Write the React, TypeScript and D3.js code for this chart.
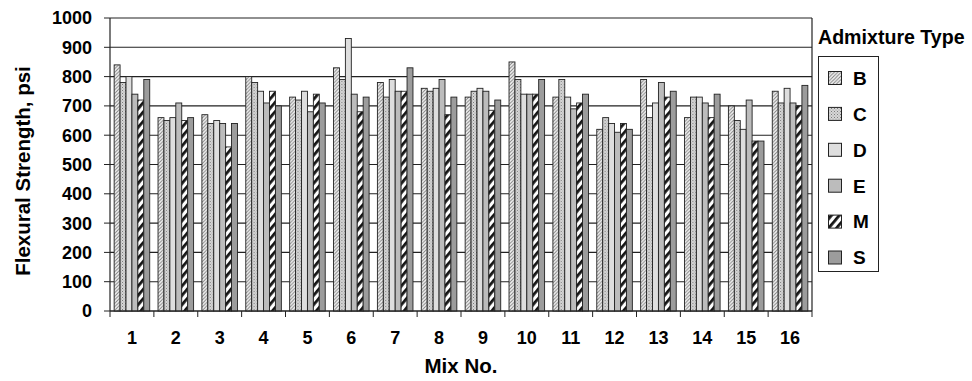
import React from 'react';
import * as d3 from 'd3';

// Mix numbers along the x axis
const mixes = ['1', '2', '3', '4', '5', '6', '7', '8', '9', '10', '11', '12', '13', '14', '15', '16'];
// Admixture types (series)
const admixtures = ['B', 'C', 'D', 'E', 'M', 'S'];

// Flexural strength (psi) per mix, one array per admixture type
const strengthB = [840, 660, 670, 800, 730, 830, 780, 760, 730, 850, 730, 620, 790, 660, 700, 750];
const strengthC = [780, 650, 640, 780, 720, 790, 730, 750, 750, 790, 790, 660, 660, 730, 650, 710];
const strengthD = [800, 660, 650, 750, 750, 930, 790, 760, 760, 740, 730, 640, 710, 730, 620, 760];
const strengthE = [740, 710, 640, 710, 680, 740, 750, 790, 750, 740, 690, 610, 780, 710, 720, 710];
const strengthM = [720, 650, 560, 750, 740, 680, 750, 670, 685, 740, 710, 640, 730, 660, 580, 700];
const strengthS = [790, 660, 640, 700, 710, 730, 830, 730, 720, 790, 740, 620, 750, 740, 580, 770];

const yTicks = [0, 100, 200, 300, 400, 500, 600, 700, 800, 900, 1000];

const seriesValues = [strengthB, strengthC, strengthD, strengthE, strengthM, strengthS];
const fills = ['url(#patB)', 'url(#patC)', '#dedede', '#bcbcbc', 'url(#patM)', '#9c9c9c'];

const W = 972;
const H = 381;
const plot = { left: 110, right: 812, top: 18, bottom: 311 };
const FONT = '"Liberation Sans", Arial, Helvetica, sans-serif';

export default function App() {
  const x0 = d3.scaleBand<string>().domain(mixes).range([plot.left, plot.right]).paddingInner(0).paddingOuter(0);
  const x1 = d3.scaleBand<string>().domain(admixtures).range([0, x0.bandwidth()]).paddingOuter(0.7).paddingInner(0);
  const y = d3.scaleLinear().domain([0, 1000]).range([plot.bottom, plot.top]);

  const legendItemY = d3.scalePoint<string>().domain(admixtures).range([78, 257.5]);

  return (
    <div style={{ position: 'absolute', left: 0, top: 0 }}>
      <svg width={W} height={H} style={{ display: 'block', background: '#fff' }} fontFamily={FONT}>
        <defs>
          <pattern id="patB" width="3.5" height="3.5" patternUnits="userSpaceOnUse">
            <rect width="3.5" height="3.5" fill="#f4f4f4" />
            <path d="M-1,1 L1,-1 M0,3.5 L3.5,0 M2.5,4.5 L4.5,2.5" stroke="#7a7a7a" strokeWidth="0.9" />
          </pattern>
          <pattern id="patC" width="3" height="3" patternUnits="userSpaceOnUse">
            <rect width="3" height="3" fill="#d6d6d6" />
            <rect x="0" y="0" width="1" height="1" fill="#7c7c7c" />
            <rect x="1.5" y="1.5" width="1" height="1" fill="#9a9a9a" />
          </pattern>
          <pattern id="patM" width="6" height="6" patternUnits="userSpaceOnUse" patternTransform="rotate(40)">
            <rect width="6" height="6" fill="#ffffff" />
            <rect x="0" y="0" width="2.8" height="6" fill="#151515" />
          </pattern>
        </defs>

        {/* horizontal gridlines */}
        {yTicks.map((t) => (
          <line key={'g' + t} x1={plot.left} x2={plot.right} y1={y(t)} y2={y(t)} stroke="#222" strokeWidth={1.1} />
        ))}

        {/* bars */}
        {mixes.map((m, i) => (
          <g key={'grp' + m} transform={`translate(${x0(m)},0)`}>
            {admixtures.map((a, j) => {
              const v = seriesValues[j][i];
              return (
                <rect
                  key={a}
                  x={x1(a)}
                  y={y(v)}
                  width={x1.bandwidth()}
                  height={y(0) - y(v)}
                  fill={fills[j]}
                  stroke="#222"
                  strokeWidth={0.9}
                />
              );
            })}
          </g>
        ))}

        {/* plot frame: y axis, right edge, x axis */}
        <line x1={plot.left} x2={plot.left} y1={plot.top} y2={plot.bottom} stroke="#222" strokeWidth={1.2} />
        <line x1={plot.right} x2={plot.right} y1={plot.top} y2={plot.bottom} stroke="#222" strokeWidth={1.2} />
        <line x1={plot.left} x2={plot.right} y1={plot.bottom} y2={plot.bottom} stroke="#222" strokeWidth={1.2} />

        {/* y axis ticks and labels */}
        {yTicks.map((t) => (
          <g key={'yt' + t}>
            <line x1={plot.left - 6} x2={plot.left} y1={y(t)} y2={y(t)} stroke="#222" strokeWidth={1} />
            <text x={92} y={y(t)} dy="0.36em" textAnchor="end" fontSize={18} fontWeight="bold" fill="#000">
              {t}
            </text>
          </g>
        ))}

        {/* x axis ticks at group boundaries and labels */}
        {mixes.map((m) => (
          <line key={'xt' + m} x1={x0(m)} x2={x0(m)} y1={plot.bottom} y2={plot.bottom + 6} stroke="#222" strokeWidth={1} />
        ))}
        <line x1={plot.right} x2={plot.right} y1={plot.bottom} y2={plot.bottom + 6} stroke="#222" strokeWidth={1} />
        {mixes.map((m) => (
          <text key={'xl' + m} x={(x0(m) ?? 0) + x0.bandwidth() / 2} y={344} textAnchor="middle" fontSize={18} fontWeight="bold" fill="#000">
            {m}
          </text>
        ))}

        {/* axis titles */}
        <text x={(plot.left + plot.right) / 2} y={373} textAnchor="middle" fontSize={20.5} fontWeight="bold" fill="#000">
          Mix No.
        </text>
        <text transform={`translate(30,${171}) rotate(-90)`} textAnchor="middle" fontSize={20.5} fontWeight="bold" fill="#000">
          Flexural Strength, psi
        </text>

        {/* legend */}
        <text x={818} y={44} fontSize={19.6} fontWeight="bold" fill="#000">
          Admixture Type
        </text>
        <rect x={818.5} y={56.5} width={60} height={215} fill="#fff" stroke="#222" strokeWidth={1} />
        {admixtures.map((a, j) => {
          const cy = legendItemY(a) ?? 0;
          return (
            <g key={'lg' + a}>
              <rect x={828.5} y={cy - 6.5} width={13} height={13} fill={fills[j]} stroke="#222" strokeWidth={1} />
              <text x={853} y={cy} dy="0.36em" fontSize={19} fontWeight="bold" fill="#000">
                {a}
              </text>
            </g>
          );
        })}
      </svg>
    </div>
  );
}
